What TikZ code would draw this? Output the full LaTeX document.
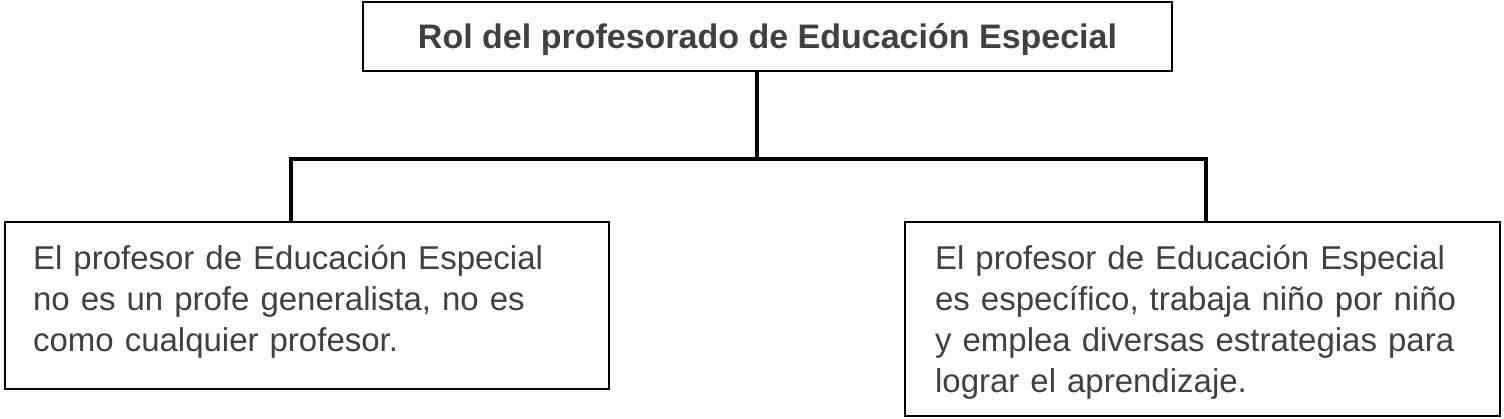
\documentclass[tikz,border=0pt]{standalone}
\usepackage{fontspec}
\setmainfont{Liberation Sans}
\usetikzlibrary{positioning}
\definecolor{txtgray}{RGB}{64,64,64}

\begin{document}
\begin{tikzpicture}[x=0.5pt, y=-0.5pt,
	box/.style={draw, line width=1.1pt, inner sep=0pt, text=txtgray},
	bodybox/.style={box, anchor=north west, align=left, inner ysep=0pt, text height=23.5pt, font=\fontsize{16.5}{20.5}\selectfont},
	conn/.style={line width=2pt, line cap=rect}]
	\useasboundingbox (0,0) rectangle (1504,418);

	\coordinate (stem) at (757,159);
	\coordinate (barL) at (291,159);
	\coordinate (barR) at (1206,159);

	\node [box, minimum width=404.5pt, minimum height=34.5pt, text height=11.5pt, text depth=0pt, font=\fontsize{17}{20}\selectfont\bfseries] (rol) at (767.5,36.5) {Rol del profesorado de Educación Especial};

	\node [bodybox, inner xsep=14pt, text width=274pt, text depth=60pt] (general) at (4,221) {El profesor de Educación Especial\\no es un profe generalista, no es\\como cualquier profesor.};
	\node [bodybox, inner xsep=15pt, text width=267.5pt, text depth=73.5pt] (especifico) at (904,221) {El profesor de Educación Especial\\es específico, trabaja niño por niño\\y emplea diversas estrategias para\\lograr el aprendizaje.};

	\draw [conn] (stem |- rol.south) -- (stem);
	\draw [conn] (barL) -- (barR);
	\draw [conn] (barL) -- (barL |- general.north);
	\draw [conn] (barR) -- (barR |- especifico.north);
\end{tikzpicture}
\end{document}
